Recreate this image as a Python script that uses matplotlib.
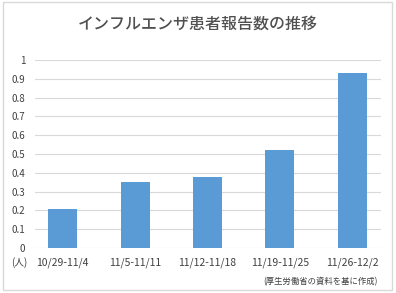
import matplotlib
matplotlib.use("Agg")
import matplotlib.pyplot as plt
from matplotlib.patches import Rectangle

plt.rcParams['font.family'] = ['Noto Sans CJK JP', 'DejaVu Sans']

categories = ["10/29-11/4", "11/5-11/11", "11/12-11/18", "11/19-11/25", "11/26-12/2"]
values = [0.21, 0.35, 0.38, 0.52, 0.93]
yticks = [0, 0.1, 0.2, 0.3, 0.4, 0.5, 0.6, 0.7, 0.8, 0.9, 1]
ytick_labels = ["0", "0.1", "0.2", "0.3", "0.4", "0.5", "0.6", "0.7", "0.8", "0.9", "1"]
title = "インフルエンザ患者報告数の推移"
unit = "(人)"
source = "(厚生労働省の資料を基に作成)"

W, H = 396, 293
fig = plt.figure(figsize=(W / 100, H / 100), dpi=100)
fig.patch.set_facecolor("white")
fig.add_artist(Rectangle((3 / W, 3 / H), 389 / W, 288 / H, transform=fig.transFigure,
                         fill=False, edgecolor="#D9D9D9", linewidth=1))

ax = fig.add_axes([35 / W, 1 - 248 / H, 346 / W, 188 / H])
x = list(range(len(categories)))
ax.bar(x, values, width=0.4, color="#5B9BD5", zorder=3)
ax.set_xlim(-0.383, 4.40)
ax.set_ylim(0, 1)
ax.set_yticks(yticks)
ax.set_yticklabels(ytick_labels)
ax.set_xticks(x)
ax.set_xticklabels(categories)
for s in ax.spines.values():
    s.set_visible(False)
ax.grid(axis="y", color="#D9D9D9", linewidth=0.8, zorder=0)
ax.tick_params(axis="both", length=0, colors="#595959")
ax.tick_params(axis="y", labelsize=7, pad=7)
ax.tick_params(axis="x", labelsize=7.5, pad=7)
for t in ax.get_yticklabels() + ax.get_xticklabels():
    t.set_color("#404040")

fig.text(198 / W, 1 - 24 / H, title, ha="center", va="center", fontsize=11.5,
         fontweight="medium", color="#505050")
fig.text(19 / W, 1 - 263 / H, unit, ha="center", va="center", fontsize=7, color="#404040")
fig.text(378 / W, 1 - 282 / H, source, ha="right", va="center", fontsize=6, color="#404040")

fig.savefig("out.png", dpi=100, facecolor="white")
